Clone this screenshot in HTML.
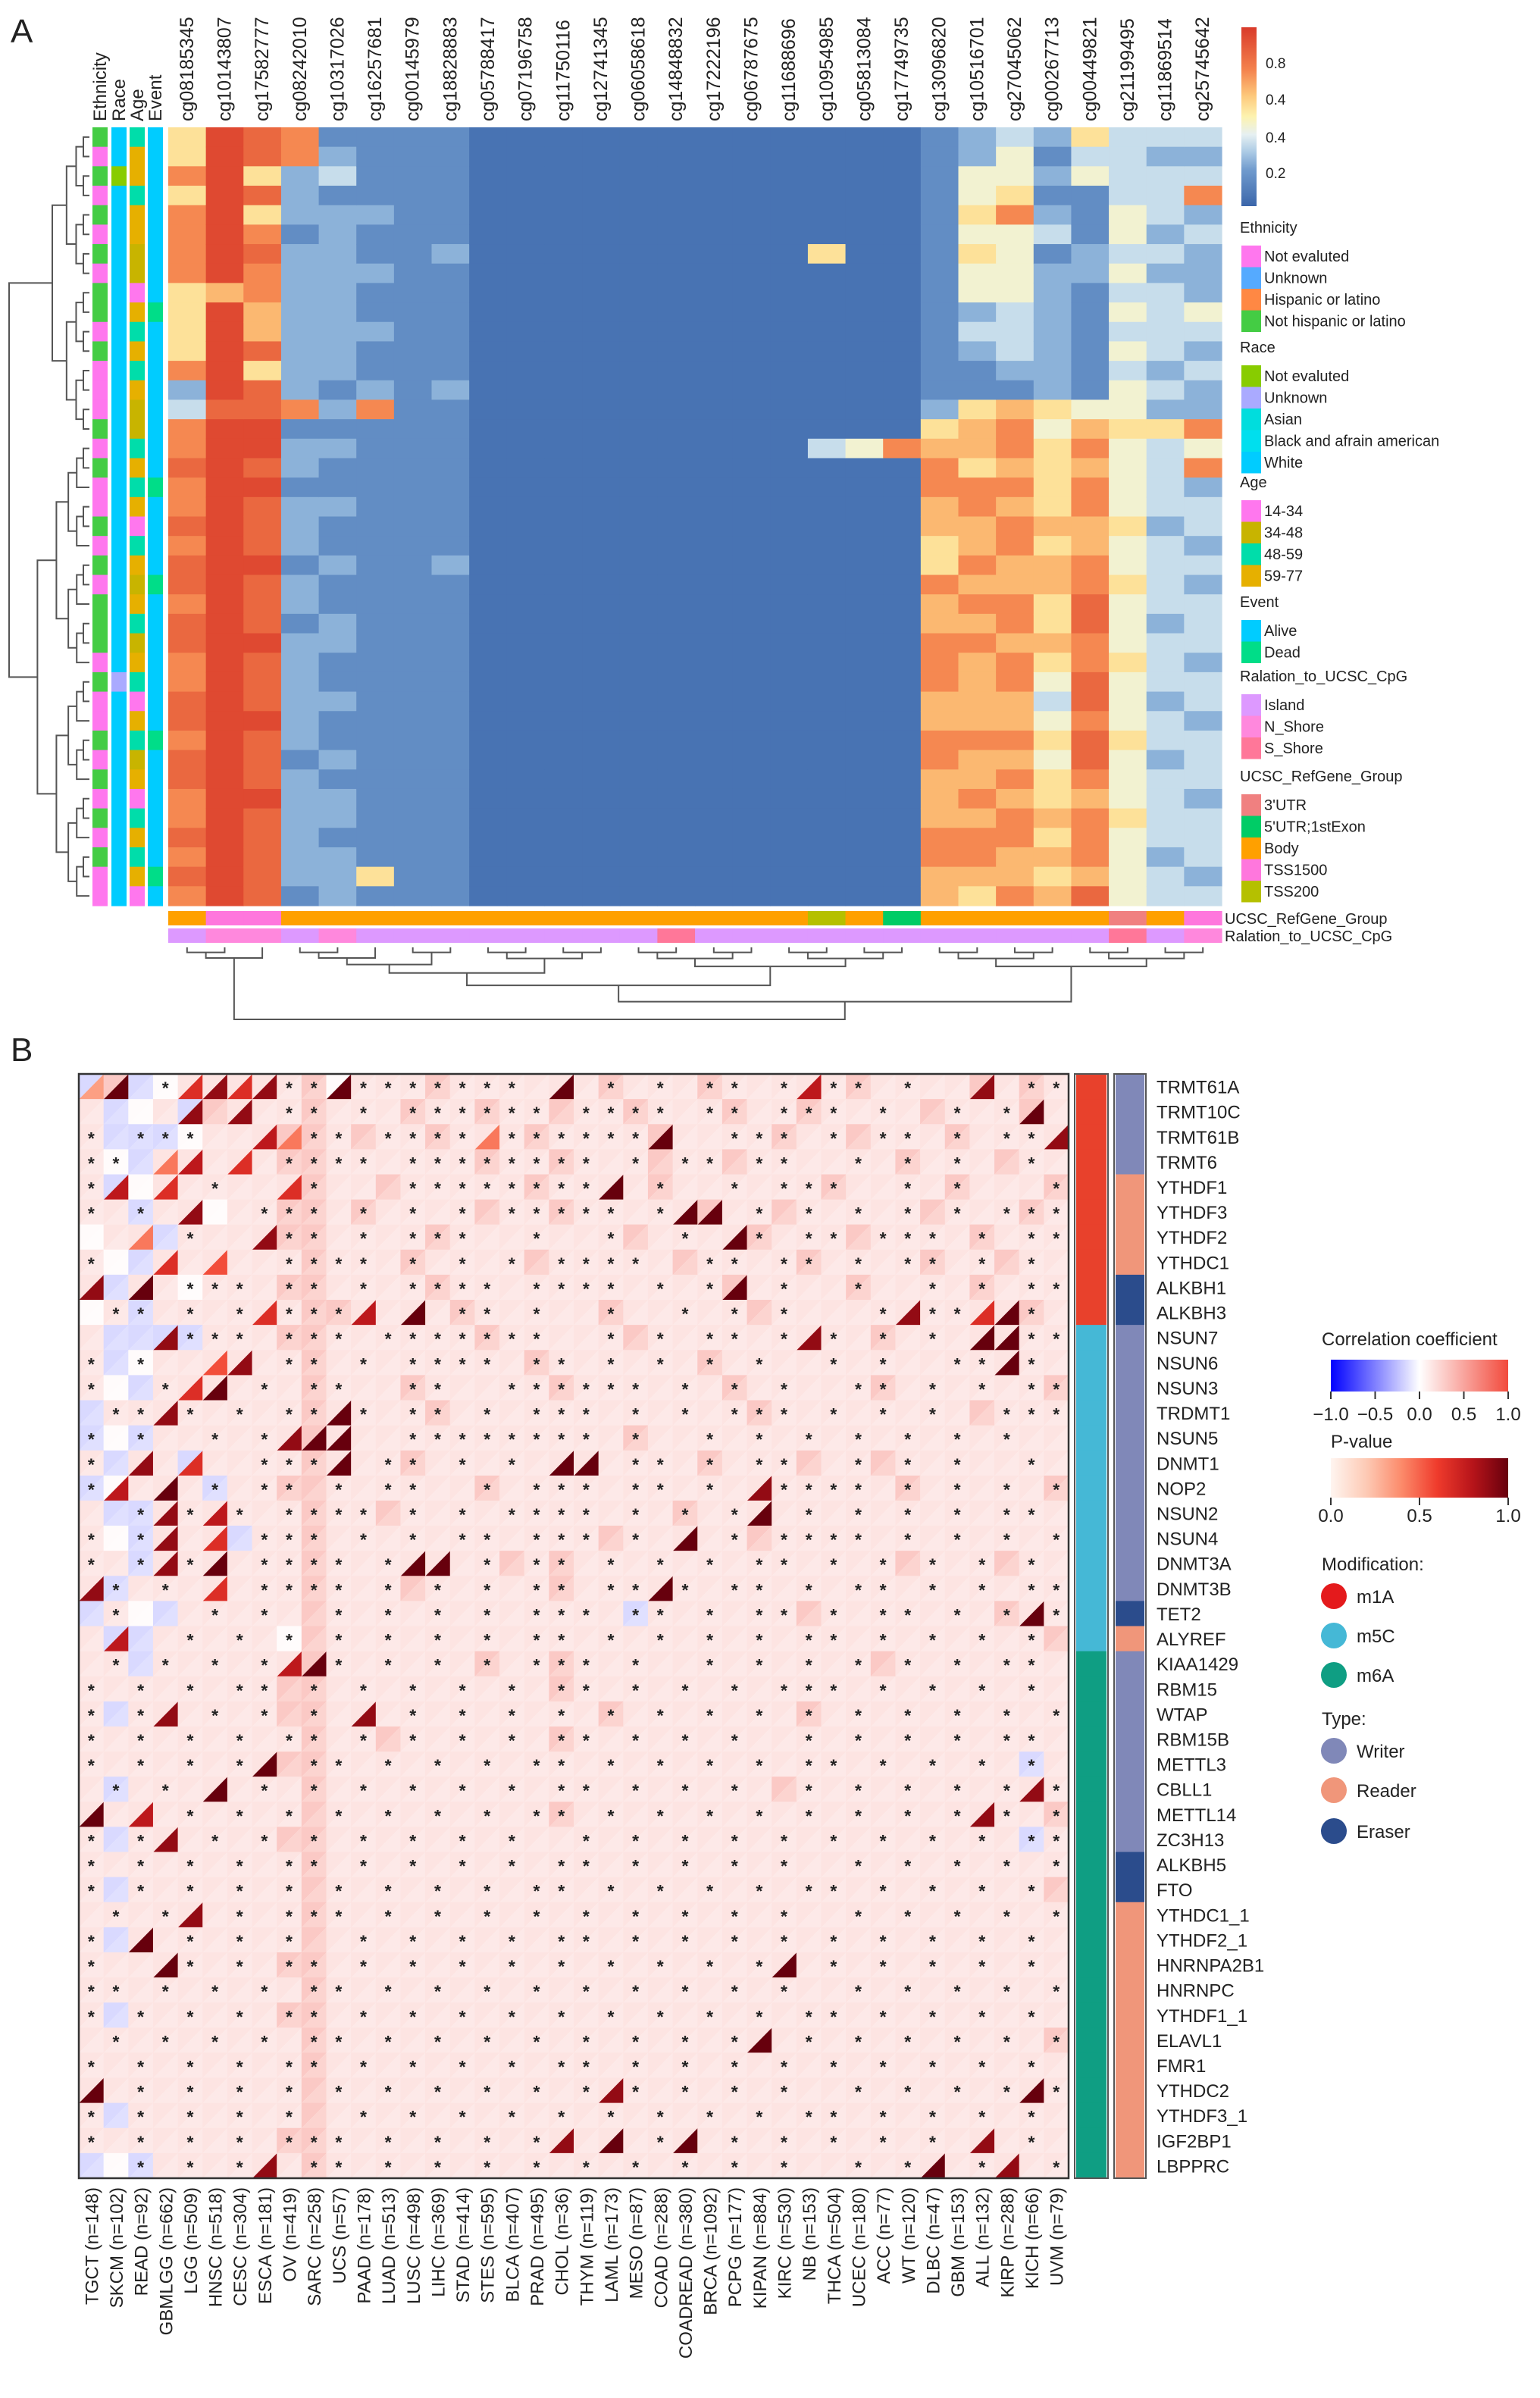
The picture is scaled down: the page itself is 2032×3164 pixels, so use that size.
<!DOCTYPE html>
<html><head><meta charset="utf-8">
<style>
html,body{margin:0;padding:0;background:#fff;}
svg text{font-family:"Liberation Sans",Arial,sans-serif;fill:#222;}
</style></head>
<body>
<svg id="fig" xmlns="http://www.w3.org/2000/svg" width="2032" height="3159" viewBox="0 0 2032 3159">
<rect width="2032" height="3159" fill="#fff"/>
<text x="14" y="56" font-size="44">A</text>
<text x="14" y="1400" font-size="44">B</text>
<g id="pa"></g>
<g id="pb"></g>
</svg>
<script>
const NS="http://www.w3.org/2000/svg";
// ---------- Panel A data ----------
const probeNames=["cg08185345","cg10143807","cg17582777","cg08242010","cg10317026","cg16257681","cg00145979","cg18828883","cg05788417","cg07196758","cg11750116","cg12741345","cg06058618","cg14848832","cg17222196","cg06787675","cg11688696","cg10954985","cg05813084","cg17749735","cg13096820","cg10516701","cg27045062","cg00267713","cg00449821","cg21199495","cg11869514","cg25745642"];
const betaCols=[
"5575777755 5572377877 8788788778 8788778787",
"9999999969 9999899999 9999999999 9999999999",
"8858578776 6858899898 8898889888 9888988888",
"7722212222 2222712212 2212212222 2212222221",
"1231222222 2221212112 1121122112 1121221222",
"1111211211 2112711111 1111111111 1111111151",
"1111111111 1111111111 1111111111 1111111111",
"1111112111 1112111111 1121111111 1111111111",
"0000000000 0000000000 0000000000 0000000000",
"0000000000 0000000000 0000000000 0000000000",
"0000000000 0000000000 0000000000 0000000000",
"0000000000 0000000000 0000000000 0000000000",
"0000000000 0000000000 0000000000 0000000000",
"0000000000 0000000000 0000000000 0000000000",
"0000000000 0000000000 0000000000 0000000000",
"0000000000 0000000000 0000000000 0000000000",
"0000000000 0000000000 0000000000 0000000000",
"0000005000 0000003000 0000000000 0000000000",
"0000000000 0000004000 0000000000 0000000000",
"0000000000 0000007000 0000000000 0000000000",
"1111111111 1111256776 6557667776 6776667766",
"2244545442 3211566577 6676767666 6766767765",
"3445744443 3321677676 7766776776 6767677667",
"2121231222 2222545555 6566556543 4545565656",
"5341112211 1111467677 6677887788 7887677768",
"3333443434 3434454444 5445444544 4544454444",
"3233323233 3323253333 2333323332 3323333233",
"3237232224 3232274723 3232333233 2333233323"];
const ethAnn ="gpgpgpgpgg pgpppgpgpp gpgpgggpgp pgpgpgpgpp";
const raceAnn="ccnccccccc cccccccccc ccccccccuc cccccccccc";
const ageAnn ="cddcddbbad cdcdbbcdcd acdbdcbdca dcbdacdcda";
const eventAnn="aaaaaaaaad aaaaaaaada aaadaaaaaa adaaaaaada";
const refGroup=["b","t","t","b","b","b","b","b","b","b","b","b","b","b","b","b","b","s","b","e","b","b","b","b","b","u","b","t"];
const cpgRel  =["i","n","n","i","n","i","i","i","i","i","i","i","i","s","i","i","i","i","i","i","i","i","i","i","i","s","i","n"];
const cbTicks=["0.8","0.4","0.4","0.2"];

const ethC={p:"#ff77ee",u:"#55aaff",h:"#ff8844",g:"#44cc44"};
const raceC={n:"#88cc00",u:"#aaaaff",a:"#00dddd",b:"#00dfee",c:"#00ccff"};
const ageC={a:"#ff77ee",b:"#c8b400",c:"#00ddaa",d:"#e6b000"};
const evC={a:"#00ccff",d:"#00dd88"};
const refC={u:"#f08080",e:"#00cc66",b:"#ffa000",t:"#ff77dd",s:"#b5c000"};
const cpgC={i:"#dd99ff",n:"#ff88dd",s:"#ff7799"};

function el(tag,attrs,parent){const e=document.createElementNS(NS,tag);for(const k in attrs)e.setAttribute(k,attrs[k]);(parent||document.getElementById('fig')).appendChild(e);return e;}
function hex(h){return [parseInt(h.slice(1,3),16),parseInt(h.slice(3,5),16),parseInt(h.slice(5,7),16)];}
function interp(stops,t){t=Math.max(0,Math.min(1,t));for(let i=1;i<stops.length;i++){if(t<=stops[i][0]){const a=stops[i-1],b=stops[i];const f=(t-a[0])/(b[0]-a[0]);const ca=hex(a[1]),cb=hex(b[1]);return "rgb("+ca.map((v,k)=>Math.round(v+(cb[k]-v)*f)).join(",")+")";}}return stops[stops.length-1][1];}
const betaStops=[[0,"#3b66aa"],[0.2,"#6f9acd"],[0.3,"#a9c9e4"],[0.4,"#e6f0f2"],[0.5,"#fdf3b0"],[0.62,"#fdc77a"],[0.76,"#f4834e"],[1,"#d93a2a"]];
const clean=s=>s.replace(/ /g,"");

const pa=document.getElementById('pa');
const HX0=222,HX1=1612,HY0=168,HY1=1195;
const nCol=probeNames.length,nRow=clean(betaCols[0]).length;
const cw=(HX1-HX0)/nCol,rh=(HY1-HY0)/nRow;
const xCol=j=>HX0+j*cw, yRow=i=>HY0+i*rh;
betaCols.forEach((s,j)=>{s=clean(s);for(let i=0;i<nRow;i++){const v=(+s[i])/10+0.05;
 const r=el('rect',{x:xCol(j),y:yRow(i),width:cw+0.6,height:rh+0.6,fill:interp(betaStops,v)},pa);
 
 }});
probeNames.forEach((n,j)=>{const cx=xCol(j)+cw/2+8;const t=el('text',{x:0,y:0,'font-size':25,transform:`translate(${cx},160) rotate(-90)`},pa);t.textContent=n;
 
 });
const annDefs=[["Ethnicity",ethAnn,ethC,122],["Race",raceAnn,raceC,147],["Age",ageAnn,ageC,171],["Event",eventAnn,evC,195]];
annDefs.forEach(([nm,s,cmap,x])=>{s=clean(s);for(let i=0;i<nRow;i++){const r=el('rect',{x:x,y:yRow(i),width:20,height:rh+0.6,fill:cmap[s[i]]},pa);
 
 }
 const t=el('text',{x:0,y:0,'font-size':24,transform:`translate(${x+18},160) rotate(-90)`},pa);t.textContent=nm;
 
 });
[[refGroup,refC,1202,"UCSC_RefGene_Group"],[cpgRel,cpgC,1225,"Ralation_to_UCSC_CpG"]].forEach(([arr,cmap,y,lab])=>{arr.forEach((k,j)=>{const r=el('rect',{x:xCol(j),y:y,width:cw+0.6,height:19,fill:cmap[k]},pa);
 
 });
 const t=el('text',{x:1616,y:y+17,'font-size':20},pa);t.textContent=lab;
 
 });
function build(a,b,splits){if(b-a===1)return{p:a+0.5,h:0};let m=a+Math.ceil((b-a)/2);if(splits&&splits[a+"-"+b]!==undefined)m=splits[a+"-"+b];const l=build(a,m,splits),r=build(m,b,splits);const h=Math.max(l.h,r.h)+1+(b-a)*0.12;return{p:(l.p+r.p)/2,h:h,l:l,r:r};}
function drawRow(n,sc,base){if(!n.l)return;const y1=yRow(n.l.p),y2=yRow(n.r.p),x=base-n.h*sc;
 el('path',{d:`M${base-n.l.h*sc},${y1}H${x}V${y2}H${base-n.r.h*sc}`,fill:'none',stroke:'#555','stroke-width':2},pa);drawRow(n.l,sc,base);drawRow(n.r,sc,base);}
const rt=build(0,nRow,{"0-40":16});const rs=(116-10)/rt.h;drawRow(rt,rs,118);
function drawCol(n,sc,base){if(!n.l)return;const x1=xCol(n.l.p),x2=xCol(n.r.p),y=base+n.h*sc;
 el('path',{d:`M${x1},${base+n.l.h*sc}V${y}H${x2}V${base+n.r.h*sc}`,fill:'none',stroke:'#555','stroke-width':2},pa);drawCol(n.l,sc,base);drawCol(n.r,sc,base);}
const ct=build(0,nCol,{"0-28":3,"3-28":20});drawCol(ct,(1345-1250)/ct.h,1250);
const defs=el('defs',{});
const gA=el('linearGradient',{id:'gA',x1:0,y1:1,x2:0,y2:0},defs);
betaStops.forEach(s=>el('stop',{offset:s[0],'stop-color':s[1]},gA));
const cb=el('rect',{x:1638,y:36,width:20,height:236,fill:'url(#gA)'},pa);


const cbY=[83,131,181,228];
cbTicks.forEach((t,i)=>{const e=el('text',{x:1670,y:cbY[i]+7,'font-size':19},pa);e.textContent=t;
 
 });
const legA=[["Ethnicity",300,[["Not evaluted","#ff77ee"],["Unknown","#55aaff"],["Hispanic or latino","#ff8844"],["Not hispanic or latino","#44cc44"]]],
["Race",458,[["Not evaluted","#88cc00"],["Unknown","#aaaaff"],["Asian","#00dddd"],["Black and afrain american","#00dfee"],["White","#00ccff"]]],
["Age",636,[["14-34","#ff77ee"],["34-48","#c8b400"],["48-59","#00ddaa"],["59-77","#e6b000"]]],
["Event",794,[["Alive","#00ccff"],["Dead","#00dd88"]]],
["Ralation_to_UCSC_CpG",892,[["Island","#dd99ff"],["N_Shore","#ff88dd"],["S_Shore","#ff7799"]]],
["UCSC_RefGene_Group",1024,[["3'UTR","#f08080"],["5'UTR;1stExon","#00cc66"],["Body","#ffa000"],["TSS1500","#ff77dd"],["TSS200","#b5c000"]]]];
legA.forEach(([title,y,items])=>{const t=el('text',{x:1636,y:y+7,'font-size':20},pa);t.textContent=title;
 
 
 items.forEach(([lab,c],k)=>{const yy=y+24+k*28.5;const r=el('rect',{x:1638,y:yy,width:26,height:28.5,fill:c},pa);
  
  
  const tx=el('text',{x:1668,y:yy+21,'font-size':20},pa);tx.textContent=lab;
  
  });});

// ---------- Panel B data ----------
const genes=["TRMT61A","TRMT10C","TRMT61B","TRMT6","YTHDF1","YTHDF3","YTHDF2","YTHDC1","ALKBH1","ALKBH3","NSUN7","NSUN6","NSUN3","TRDMT1","NSUN5","DNMT1","NOP2","NSUN2","NSUN4","DNMT3A","DNMT3B","TET2","ALYREF","KIAA1429","RBM15","WTAP","RBM15B","METTL3","CBLL1","METTL14","ZC3H13","ALKBH5","FTO","YTHDC1_1","YTHDF2_1","HNRNPA2B1","HNRNPC","YTHDF1_1","ELAVL1","FMR1","YTHDC2","YTHDF3_1","IGF2BP1","LBPPRC"];
const cancers=["TGCT (n=148)","SKCM (n=102)","READ (n=92)","GBMLGG (n=662)","LGG (n=509)","HNSC (n=518)","CESC (n=304)","ESCA (n=181)","OV (n=419)","SARC (n=258)","UCS (n=57)","PAAD (n=178)","LUAD (n=513)","LUSC (n=498)","LIHC (n=369)","STAD (n=414)","STES (n=595)","BLCA (n=407)","PRAD (n=495)","CHOL (n=36)","THYM (n=119)","LAML (n=173)","MESO (n=87)","COAD (n=288)","COADREAD (n=380)","BRCA (n=1092)","PCPG (n=177)","KIPAN (n=884)","KIRC (n=530)","NB (n=153)","THCA (n=504)","UCEC (n=180)","ACC (n=77)","WT (n=120)","DLBC (n=47)","GBM (n=153)","ALL (n=132)","KIRP (n=288)","KICH (n=66)","UVM (n=79)"];
const modif=["a","a","a","a","a","a","a","a","a","a","c","c","c","c","c","c","c","c","c","c","c","c","c","g","g","g","g","g","g","g","g","g","g","g","g","g","g","g","g","g","g","g","g","g"];
const gtype=["w","w","w","w","r","r","r","r","e","e","w","w","w","w","w","w","w","w","w","w","w","e","r","w","w","w","w","w","w","w","w","e","e","r","r","r","r","r","r","r","r","r","r","r"];
const pRows=[
"39.*6868** 9*******.9 .*.*.**.*7 **.*..8.**",
"....8.8.** .*.******. ****.**.** *.*..*.*9.",
"*.***..74* *.****4*** ***9..***. *.**.*.**8",
"**.47.6.** **.******* *.*.**.**. .*.*.*..*.",
"*7.6.*..6* ...******* *9.*..*.** *..*.*...*",
"*.*.8..*** .*.*.*.*** **.*99.*.* .*.*.*.***",
"..4.*..8** .*.***..*. .*..*.9*.* *.***.*.**",
"*..6.5..** **.*.*.*.* ***..**.** .*.**.*.*.",
"8.9.***.** .*.****.** **.*.*9.*. .*..*.*.**",
".**.*.*6** *7.9.**.*. .*..*.*.*. ..*8**69*.",
"...8***.** *.*******. .*.*.**.*8 *.*.*.99**",
"*.*..58.** .*.****.** .*.*.*.*.. *.*..**9*.",
"*..*69.*.* *..**..*** ***.*.*.*. .**.*.*.**",
".**8*.*.** 9*.**.*.** *.*.*.***. *.*.*..***",
"*.*..*.*89 9..******* *.*..*.*.* .*.*.*.*..",
"*.8.6..*** 9.**.*.*.9 9.**.*.**. .*.*.*..*.",
"*7.9.*.**. *.**..*.** *.**.*.8** **.*.*.*.*",
"..*8*7*.** **.*.*.*** *.*.*.*9.* .*.*.*.**.",
"*.*8.6.*** .*.*.**.** *.*.9.*.** **.*.*.*.*",
"*.*8*9.*** *.*99.*.** .*.*.*.**. *.*.*.*.*.",
"8*.*.6.*** *.*.*.*.** .**9*.**.* .**.*.*.**",
".*...*.*.. *.*.*.*.** *.**.*.**. *.**.*.*9*",
".7..*.*.*. *.*.*.*.** .*.*.*.*.* *.*.*.*.*.",
".*.*.*.*79 *.*.*.*.** *.*..*.*.* .*.*.*.**.",
"*.*.*.**.* .*.*.*.*.* *.*.*.*.** *.*.*.*.*.",
"*.*8.*.*.* .8.*.*.*.* .*.*.*.*.* .*.*.*.*.*",
"*.*.*.*.** .*.*.*.*.* *.*.*.*..* .*.*.*.**.",
"*.*.*.*9.* *.*.*.*.** .*.*.*.*.* *.*.*.*.*.",
".*.*.9.*.* .*.*.*.*.* *.*.*.*..* .*.*.*.*8*",
"9.7.*.*.*. *.*.*.*.** .*.*.*.*.* .*.*.*8*.*",
"*.*8.*.*.* .*.*.*.*.. *.*.*.*.*. *.*.*.*.**",
"*.*.*.*.** .*.*.*.*.* *.*.*.*.*. .*.*.*.*.*",
"*.*.*.*.*. *.*.*.*.** .*.*.*.*.* *.*.*.*.*.",
".*.*8.*.** *.*.*.*.*. *.*.*.*.*. .*.*.*.*.*",
"*.9.*.*.*. .*.*.*.*.* *.*.*.*.*. *.*.*.*.*.",
"*..9*.*.** .*.*.*.*.* .*.*.*.*9. *.*.*.*.*.",
"**.*.*.*.* *.*.*.*.*. *.*.*.*.*. .*.*.*.*.*",
"*.*.*.*.** .*.*.*.*.* .*.*.*.*.* *.*.*.*.*.",
".*.*.*.*.* *.*.*.*.*. *.*.*.*9.* .*.*.*.*.*",
"*.*.*.*.** .*.*.*.*.* *.*.*.*.*. *.*.*.*.*.",
"9.*.*.*.*. *.*.*.*.*. *8*.*.*.*. .*.*.*.*9*",
"*.*.*.*.*. .*.*.*.*.* .*.*.*.*.* *.*.*.*.*.",
"*.*.*.*.** *.*.*.*.*8 .9.*9.*.*. *.*.*.8.*.",
"..*.*.*8.* *.*.*.*.*. *.*.*.*.*. .*.*9.*8.*"];
const cRows=[
"bpbwlllllp wlllplllll lplllpllll lpllllplpl",
"lbwlbplllp lllpllpllp llplllpllp llllplllpl",
"lbbbwlllpp lpllplllpl lllpllllpl lplllpllll",
"lwblllllpp llllllpllp lllpllplll lllplllpll",
"lbwllllllp llplllllpl lllpllllll pllllplllp",
"llbllwllpp lpllllpllp lllllpllpl llllplllpl",
"wllbllllpp llllplllll llpllllpll lpllllplll",
"lwbllllllp lllpllllpl llllpllllp llllpllpll",
"lbllwlllpp llllplllll llllllplll lpllllplll",
"wlbllllllp pllllpllll lplllllpll llllllllpl",
"lbbbblllpp llllllplll llplllllll llplllllll",
"lbwllllllp llllllllpl lllllpllll llllllllll",
"lwbllllllp lllplllllp llllllplll llpllllllp",
"bllllllllp llllplllll lllllllpll llllllplll",
"bwbllllllp llllllllll llplllllll llllllllll",
"lbllbllllp lllpllllll lllllplllp llplllllll",
"bwlllbllpp llllllplll llllllllll lllplllllp",
"lbbllllllp llplllllll llllplllll llllllllll",
"lwblllbllp llllllllll lplllllpll llllllllll",
"llbllllllp lllllllplp llllllllll lllplllpll",
"lblllllllp lllplllllp llllllllll llllllllll",
"blwblllllp llllllllll llbllllllp lllllllpll",
"lbblllllwp llllllllll llllllllll lllllllllp",
"llbllllllp llllllpllp llllllllll llplllllll",
"llllllllpp lllllllllp llllllllll llllllllll",
"lbllllllpp llllllllll lplllllllp llllllllll",
"lllllllllp llpllllllp llllllllll llllllllll",
"llllllllpp llllllllll llllllllll llllllllbl",
"lblllllllp llllllllll llllllllpl llllllllll",
"lllllllllp lllllllllp llllllllll lllllllllp",
"lbllllllpp llllllllll llllllllll llllllllbl",
"lllllllllp llllllllll llllllllll llllllllll",
"lblllllllp llllllllll llllllllll lllllllllp",
"lllllllllp llllllllll llllllllll llllllllll",
"lblllllllp llllllllll llllllllll llllllllll",
"llllllllpp llllllllll llllllllll llllllllll",
"lllllllllp llllllllll llllllllll llllllllll",
"lbllllllpp llllllllll llllllllll llllllllll",
"lllllllllp llllllllll llllllllll lllllllllp",
"lllllllllp llllllllll llllllllll llllllllll",
"lllllllllp llllllllll llllllllll llllllllll",
"lblllllllp llllllllll llllllllll llllllllll",
"llllllllpp llllllllll llllllllll llllllllll",
"bwbllllllp llllllllll llllllllll llllllllll"];
const corrTicks=["\u22121.0","\u22120.5","0.0","0.5","1.0"];
const pTicks=["0.0","0.5","1.0"];

const pb=document.getElementById('pb');
const BX0=104,BX1=1410,BY0=1417,BY1=2874;
const nG=genes.length,nC=cancers.length;
const bw=(BX1-BX0)/nC,bh=(BY1-BY0)/nG;
const xB=j=>BX0+j*bw, yB=i=>BY0+i*bh;
const corrVal={b:-0.15,w:0.02,l:0.15,p:0.3,r:0.45};
const corrStops=[[0,"#0000ff"],[0.5,"#ffffff"],[1,"#f24a3c"]];
const pStops=[[0,"#fff5f0"],[0.2,"#fdcab5"],[0.4,"#fc8a6a"],[0.6,"#ef3b2c"],[0.8,"#b7141a"],[1,"#67000d"]];
const corrColor=v=>interp(corrStops,(v+1)/2);
for(let i=0;i<nG;i++){const ps=clean(pRows[i]),cs=clean(cRows[i]);
 for(let j=0;j<nC;j++){const x=xB(j),y=yB(i);const cc=corrColor(corrVal[cs[j]]);
  const t1=el('path',{d:`M${x},${y}H${x+bw+0.5}L${x},${y+bh+0.5}Z`,fill:cc},pb);
  
  
  const ch=ps[j];const pc=(ch>='1'&&ch<='9')?interp(pStops,(+ch)/9):corrColor(corrVal[cs[j]]*0.8);
  const t2=el('path',{d:`M${x+bw+0.5},${y}V${y+bh+0.5}H${x}Z`,fill:pc},pb);
  
  
  if(ch==='*'){const s=el('text',{x:x+bw/2,y:y+bh/2+10,'font-size':23,'text-anchor':'middle','font-weight':'bold'},pb);s.textContent='*';
   
   }}}
const border=el('rect',{x:BX0,y:BY0,width:BX1-BX0,height:BY1-BY0,fill:'none',stroke:'#333','stroke-width':2.5},pb);


const modC={a:"#e8412c",c:"#45b8d6",g:"#0f9e83"};
const typC={w:"#8088b8",r:"#f0967a",e:"#2b4c8c"};
for(let i=0;i<nG;i++){
 const m=el('rect',{x:1420,y:yB(i),width:40,height:bh+0.5,fill:modC[modif[i]]},pb);
 
 
 const t=el('rect',{x:1472,y:yB(i),width:38,height:bh+0.5,fill:typC[gtype[i]]},pb);
 
 
 const lb=el('text',{x:1526,y:yB(i)+bh/2+9,'font-size':24},pb);lb.textContent=genes[i];
 
 }
[[1418,1462],[1470,1512]].forEach(([a,b])=>{const r=el('rect',{x:a,y:BY0,width:b-a,height:BY1-BY0,fill:'none',stroke:'#555','stroke-width':2},pb);
 
 });
cancers.forEach((c,j)=>{const cx=xB(j)+bw/2+9;const t=el('text',{x:0,y:0,'font-size':24,'text-anchor':'end',transform:`translate(${cx},2886) rotate(-90)`},pb);t.textContent=c;
 
 });
const gC=el('linearGradient',{id:'gC',x1:0,y1:0,x2:1,y2:0},defs);corrStops.forEach(s=>el('stop',{offset:s[0],'stop-color':s[1]},gC));
const gP=el('linearGradient',{id:'gP',x1:0,y1:0,x2:1,y2:0},defs);pStops.forEach(s=>el('stop',{offset:s[0],'stop-color':s[1]},gP));
function txt(x,y,s,fs,name,anchor){const t=el('text',{x:x,y:y,'font-size':fs,'text-anchor':anchor||'start'},pb);t.textContent=s;
 
 return t;}
txt(1744,1775,"Correlation coefficient",24,'corr-legend-title');
const cbar=el('rect',{x:1756,y:1794,width:234,height:42,fill:'url(#gC)'},pb);


corrTicks.forEach((t,k)=>{const x=1756+k*234/4;el('line',{x1:x,y1:1836,x2:x,y2:1846,stroke:'#333','stroke-width':2},pb);txt(x,1874,t,24,'corr-tick','middle');});
txt(1756,1910,"P-value",24,'pvalue-legend-title');
const pbar=el('rect',{x:1756,y:1924,width:234,height:52,fill:'url(#gP)'},pb);


pTicks.forEach((t,k)=>{const x=1756+k*117;el('line',{x1:x,y1:1976,x2:x,y2:1986,stroke:'#333','stroke-width':2},pb);txt(x,2008,t,24,'pvalue-tick','middle');});
txt(1744,2072,"Modification:",24,'modification-legend-title');
[["m1A","#e41a1c",2106],["m5C","#45b8d6",2158],["m6A","#0f9e83",2210]].forEach(([l,c,y])=>{const ci=el('circle',{cx:1760,cy:y,r:17,fill:c},pb);
 
 
 const t=txt(1790,y+9,l,24,'modification-legend-entry');});
txt(1744,2276,"Type:",24,'type-legend-title');
[["Writer","#8088b8",2310],["Reader","#f0967a",2362],["Eraser","#2b4c8c",2416]].forEach(([l,c,y])=>{const ci=el('circle',{cx:1760,cy:y,r:17,fill:c},pb);
 
 
 const t=txt(1790,y+9,l,24,'type-legend-entry');});
</script>
</body></html>
